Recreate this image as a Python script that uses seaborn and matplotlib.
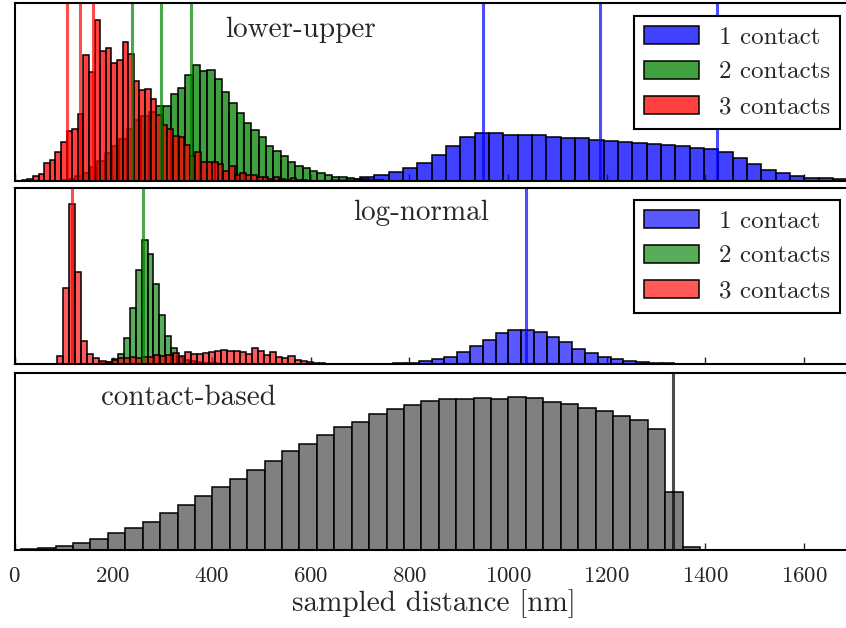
import numpy as np
import pandas as pd
import matplotlib
matplotlib.use("Agg")
import matplotlib.pyplot as plt
import seaborn as sns

# ---------------- data (bin counts, arbitrary units) -------------
# panel 1 : lower-upper
lu_blue_start, lu_blue_width = 642.0, 29.04
lu_blue = [0.5, 1.5, 3.7, 6, 8.7, 12.3, 18, 25.3, 35, 43.7, 47.7, 47.7, 45.7, 45.3, 45.3,
           44, 42.7, 42.3, 41, 40, 39, 38, 36.7, 35.7, 34.3, 32.7, 31.3, 29, 22.3, 16.3,
           10.7, 7.7, 5, 3, 2.3, 1.7, 1.2]
lu_green_start, lu_green_width = 93.4, 14.86
lu_green = [1, 2, 5, 8, 14, 20, 28, 35, 42, 52, 60, 64, 68, 74, 74, 86.7, 92.7, 105, 115.7,
            109, 110.7, 101, 88.3, 77.7, 67.7, 57.7, 50.7, 43.3, 35, 30, 24.3, 19, 15, 12.3,
            9.3, 7.3, 6, 4, 3.3, 2.3, 1.7, 1.2, 0.8, 0.5]
lu_red_start, lu_red_width = 14.6, 11.35
lu_red = [0.5, 1.7, 5, 6.7, 17.7, 20.7, 28.3, 39, 50, 51.7, 66, 125.7, 108.3, 160.7, 129,
          132.3, 117.7, 120.7, 138.3, 126.7, 99, 90.7, 91.7, 81, 65.7, 55, 51.7, 45, 43.3,
          36, 25, 28.3, 18.3, 18.3, 18.3, 16.7, 10, 14.3, 6, 7.7, 6, 6, 3.3, 3.3, 1.7, 3.3,
          1.7, 1, 2.7, 0.7, 0.5]
lu_lines_blue = [949, 1186, 1423]
lu_lines_green = [238, 297, 357]
lu_lines_red = [107, 133, 159]

# panel 2 : log-normal
ln_blue_start, ln_blue_width = 741.6, 25.9
ln_blue = [0.4, 0.7, 1.3, 3, 4.7, 7.3, 12.3, 18, 24, 30.7, 34, 34, 31.7, 26.7, 21.7, 15,
           11.3, 7.3, 4.7, 3, 1.7, 1, 0.7, 0.4]
ln_green_start, ln_green_width = 173.9, 11.96
ln_green = [1, 2, 5, 10, 26.3, 56.3, 94, 124, 110, 79.7, 49, 28, 15.7, 7, 4, 3, 2, 1.5, 1,
            0.7, 0.5, 0.3]
ln_red_start, ln_red_width = 60.8, 12.36
ln_red = [0.3, 0.5, 8.3, 75.7, 160, 92.3, 23.3, 9.7, 5.7, 3.3, 2.3, 4, 5.7, 6.3, 6.7, 6.3,
          6.7, 6.7, 9, 8, 9, 10.7, 8, 12.3, 10, 10, 11.3, 12.3, 13.3, 14, 13.3, 13, 12.3,
          9.7, 15.7, 13, 9, 11.7, 7.3, 6.3, 8, 4, 3.3, 1.7, 1, 0.7, 0.5, 0.5, 0.3]
ln_line_blue, ln_line_green, ln_line_red = 1036, 260, 116

# panel 3 : contact-based
cb_start, cb_width = 12.6, 35.3
cb_counts = [1, 2.3, 4.3, 6.7, 11, 16.7, 22.3, 28.3, 36.7, 45, 54.3, 62.7, 71.3, 80, 89.3,
             98.7, 105.7, 114.7, 122.7, 128.3, 136, 140.7, 145.3, 149, 150.7, 151.3, 152.3,
             151.3, 153.3, 151.7, 148.3, 146, 141.7, 138.7, 133.7, 130.3, 121, 58.3, 3.3]
cb_line = 1334

labels = ["1 contact", "2 contacts", "3 contacts"]
panel_titles = ["lower-upper", "log-normal", "contact-based"]
xticks = [0, 200, 400, 600, 800, 1000, 1200, 1400, 1600]
xlabel = "sampled distance [nm]"

# ---------------- style -------------
sns.set_style("white")
plt.rcParams["font.family"] = ["cmr10", "DejaVu Serif"]
plt.rcParams["axes.formatter.use_mathtext"] = True
plt.rcParams["mathtext.fontset"] = "cm"

BLUE, GREEN, RED = "#0000ff", "#008000", "#ff0000"

fig = plt.figure(figsize=(8.46, 6.28), dpi=100)
W, H = 846.0, 628.0
x0 = 14.5
pxnm = 0.4935
xmax = 1700
axw = xmax * pxnm / W


def make_ax(top_px, bot_px):
    return fig.add_axes([x0 / W, (H - bot_px) / H, axw, (bot_px - top_px) / H])


ax1 = make_ax(2.7, 180.5)
ax2 = make_ax(187.7, 364.0)
ax3 = make_ax(372.7, 550.0)


def hist(ax, start, width, counts, color, alpha, label=None):
    counts = np.asarray(counts, float)
    edges = start + width * np.arange(len(counts) + 1)
    df = pd.DataFrame({"d": edges[:-1] + width / 2, "w": counts})
    sns.histplot(data=df, x="d", weights="w", bins=[float(e) for e in edges],
                 color=color, alpha=alpha, edgecolor="k", linewidth=1.1, ax=ax,
                 label=label, stat="count")


# panel 1
hist(ax1, lu_blue_start, lu_blue_width, lu_blue, BLUE, 0.75, labels[0])
hist(ax1, lu_green_start, lu_green_width, lu_green, GREEN, 0.75, labels[1])
hist(ax1, lu_red_start, lu_red_width, lu_red, RED, 0.75, labels[2])
for xs, c in [(lu_lines_blue, BLUE), (lu_lines_green, GREEN), (lu_lines_red, RED)]:
    for v in xs:
        ax1.axvline(v, color=c, lw=2.2, alpha=0.7)

# panel 2
hist(ax2, ln_blue_start, ln_blue_width, ln_blue, BLUE, 0.65, labels[0])
hist(ax2, ln_green_start, ln_green_width, ln_green, GREEN, 0.65, labels[1])
hist(ax2, ln_red_start, ln_red_width, ln_red, RED, 0.65, labels[2])
for v, c in [(ln_line_blue, BLUE), (ln_line_green, GREEN), (ln_line_red, RED)]:
    ax2.axvline(v, color=c, lw=2.2, alpha=0.7)

# panel 3
hist(ax3, cb_start, cb_width, cb_counts, "#808080", 1.0)
ax3.axvline(cb_line, color="k", lw=2.2, alpha=0.7)

ylims = [177.8, 176.3, 177.3]
title_pos = [(580, 0.846), (824, 0.857), (352, 0.857)]
for ax, yl, t, (tx, ty) in zip([ax1, ax2, ax3], ylims, panel_titles, title_pos):
    ax.set_xlim(0, xmax)
    ax.set_ylim(0, yl)
    ax.set_ylabel("")
    ax.set_xlabel("")
    ax.set_yticks([])
    ax.set_xticks(xticks)
    ax.tick_params(axis="x", direction="in", length=5, width=1, bottom=True, top=False,
                   labelsize=16.5, pad=12)
    for s in ax.spines.values():
        s.set_linewidth(1.5)
        s.set_color("k")
    ax.text(tx, ty, t, transform=ax.get_xaxis_transform(), ha="center", va="center",
            fontsize=21)

ax1.tick_params(labelbottom=False)
ax2.tick_params(labelbottom=False)
ax3.set_xlabel(xlabel, fontsize=21, labelpad=2)

for ax, top_px in [(ax1, 16.0), (ax2, 200.0)]:
    leg = ax.legend(loc="upper right", bbox_to_anchor=(840.0 / W, (H - top_px) / H),
                    bbox_transform=fig.transFigure, borderaxespad=0, fontsize=18,
                    handlelength=2.2, fancybox=False, framealpha=1, edgecolor="k")
    leg.get_frame().set_linewidth(1.5)

fig.savefig("out.png", dpi=100)
